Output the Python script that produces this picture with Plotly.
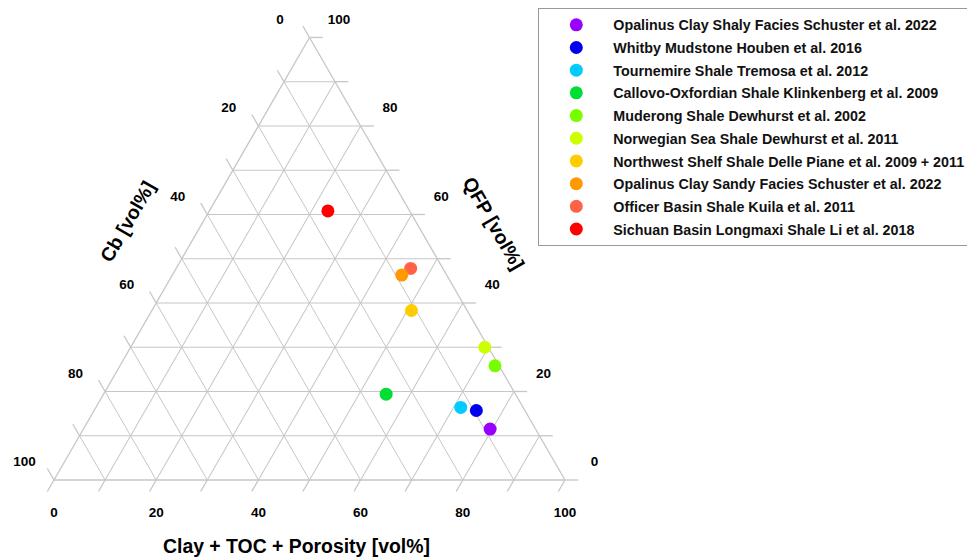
import math
import plotly.graph_objects as go

# ---------------- data ----------------
names = [
    "Opalinus Clay Shaly Facies Schuster et al. 2022",
    "Whitby Mudstone Houben et al. 2016",
    "Tournemire Shale Tremosa et al. 2012",
    "Callovo-Oxfordian Shale Klinkenberg et al. 2009",
    "Muderong Shale Dewhurst et al. 2002",
    "Norwegian Sea Shale Dewhurst et al. 2011",
    "Northwest Shelf Shale Delle Piane et al. 2009 + 2011",
    "Opalinus Clay Sandy Facies Schuster et al. 2022",
    "Officer Basin Shale Kuila et al. 2011",
    "Sichuan Basin Longmaxi Shale Li et al. 2018",
]
colors = ["#9900ff", "#0000ee", "#00ccff", "#00dd33", "#77ff00",
          "#ccff00", "#ffcc00", "#ff9900", "#ff6347", "#ff0000"]
qfp = [11.5, 15.7, 16.4, 19.4, 25.8, 30.0, 38.3, 46.3, 47.8, 60.8]   # top vertex
cb = [8.9, 9.5, 12.2, 25.3, 0.8, 0.7, 10.9, 8.8, 6.3, 16.0]          # bottom-left vertex
clay = [79.6, 74.8, 71.4, 55.3, 73.4, 69.3, 50.8, 44.9, 45.9, 23.2]  # bottom-right vertex
draw_order = [0, 1, 2, 3, 4, 5, 6, 8, 7, 9]

grid_vals = list(range(0, 101, 10))
label_vals = [0, 20, 40, 60, 80, 100]
label_text = [str(v) for v in label_vals]

# ---------------- geometry / style ----------------
FONT = "Liberation Sans"
GRID = "#c6c6c6"
GW = 1.3
TICK_EXT = 2.6     # grid-line extension beyond the edge, in ternary units
LABEL_OFF = 3.85   # outward offset of tick labels, in ternary units

PAGE_OFF = 8                      # default body margin of the html page
W, H = 975 - PAGE_OFF, 558 - PAGE_OFF
TRI_LEFT, TRI_RIGHT, TRI_BASE = 54 - PAGE_OFF, 565 - PAGE_OFF, 480 - PAGE_OFF
SIDE = TRI_RIGHT - TRI_LEFT
PX = SIDE / 100.0                 # pixels per ternary unit
S3 = math.sqrt(3) / 2
TRI_TOP = TRI_BASE - SIDE * S3


def px(x):
    return (x - PAGE_OFF) / W


def py(y):
    return 1 - (y - PAGE_OFF) / H


def to_xy(a, b, c):
    """ternary (a top, b bottom-left, c bottom-right) -> cartesian overlay units"""
    if a is None:
        return None, None
    return c + a / 2.0, a * S3


fig = go.Figure()

# ---- data points on the ternary subplot ----
for i in draw_order:
    fig.add_trace(go.Scatterternary(
        a=[qfp[i]], b=[cb[i]], c=[clay[i]], mode="markers", name=names[i],
        legendgroup=names[i],
        marker=dict(color=colors[i], size=13, line=dict(width=0)),
        legendrank=i + 1, cliponaxis=False))

# ---- ticks: grid-line extensions on the labelled side (cartesian overlay) ----
ta, tb, tc = [], [], []
for v in grid_vals:
    ta += [v, v, None]; tb += [0, -TICK_EXT, None]; tc += [100 - v, 100 - v + TICK_EXT, None]
    ta += [100 - v, 100 - v + TICK_EXT, None]; tb += [v, v, None]; tc += [0, -TICK_EXT, None]
    ta += [0, -TICK_EXT, None]; tb += [100 - v, 100 - v + TICK_EXT, None]; tc += [v, v, None]
tx, ty = zip(*[to_xy(a, b, c) for a, b, c in zip(ta, tb, tc)])
fig.add_trace(go.Scatter(
    x=list(tx), y=list(ty), mode="lines", line=dict(color=GRID, width=GW),
    showlegend=False, hoverinfo="skip", cliponaxis=False, xaxis="x", yaxis="y"))

# ---- tick labels ----
la, lb, lc, lt = [], [], [], []
for v, t in zip(label_vals, label_text):
    la.append(v + LABEL_OFF); lb.append(-2 * LABEL_OFF); lc.append(100 - v + LABEL_OFF); lt.append(t)
    la.append(100 - v + LABEL_OFF); lb.append(v + LABEL_OFF); lc.append(-2 * LABEL_OFF); lt.append(t)
    la.append(-2 * LABEL_OFF); lb.append(100 - v + LABEL_OFF); lc.append(v + LABEL_OFF); lt.append(t)
lx, ly = zip(*[to_xy(a, b, c) for a, b, c in zip(la, lb, lc)])
fig.add_trace(go.Scatter(
    x=list(lx), y=list(ly), text=lt, mode="text", textposition="middle center",
    textfont=dict(family=FONT, size=13.5, color="#000000", weight="bold"),
    showlegend=False, hoverinfo="skip", cliponaxis=False, xaxis="x", yaxis="y"))

axis_common = dict(showgrid=True, gridcolor=GRID, gridwidth=GW, dtick=10, tick0=0,
                   showline=True, linecolor=GRID, linewidth=GW, ticks="",
                   showticklabels=False, layer="below traces", title=dict(text=""))

title_font = dict(family=FONT, size=19.4, color="#000000", weight="bold")

fig.update_layout(
    width=W, height=H, margin=dict(l=0, r=0, t=0, b=0, pad=0),
    paper_bgcolor="white", plot_bgcolor="rgba(0,0,0,0)",
    xaxis=dict(visible=False, domain=[0, 1], fixedrange=True,
               range=[-TRI_LEFT / PX, (W - TRI_LEFT) / PX]),
    yaxis=dict(visible=False, domain=[0, 1], fixedrange=True,
               range=[(TRI_BASE - H) / PX, TRI_BASE / PX]),
    ternary=dict(
        sum=100, bgcolor="white",
        domain=dict(x=[TRI_LEFT / W, TRI_RIGHT / W],
                    y=[1 - TRI_BASE / H, 1 - TRI_TOP / H]),
        aaxis=axis_common, baxis=axis_common, caxis=axis_common,
    ),
    showlegend=True,
    legend=dict(x=px(538.3), y=py(8), xanchor="left", yanchor="top",
                bordercolor="#999999", borderwidth=1, bgcolor="white",
                itemwidth=64, tracegroupgap=1.1,
                font=dict(family=FONT, size=14.3, color="#111111", weight="bold")),
    annotations=[
        dict(text="Cb [vol%]", x=px(127), y=py(222), xref="paper", yref="paper",
             textangle=-60, showarrow=False, xanchor="center", yanchor="middle",
             font=title_font),
        dict(text="QFP [vol%]", x=px(494), y=py(222.5), xref="paper", yref="paper",
             textangle=60, showarrow=False, xanchor="center", yanchor="middle",
             font=title_font),
        dict(text="Clay + TOC + Porosity [vol%]", x=px(296.5), y=py(546),
             xref="paper", yref="paper", showarrow=False,
             xanchor="center", yanchor="middle", font=title_font),
    ],
)

fig.write_html("out.html")
